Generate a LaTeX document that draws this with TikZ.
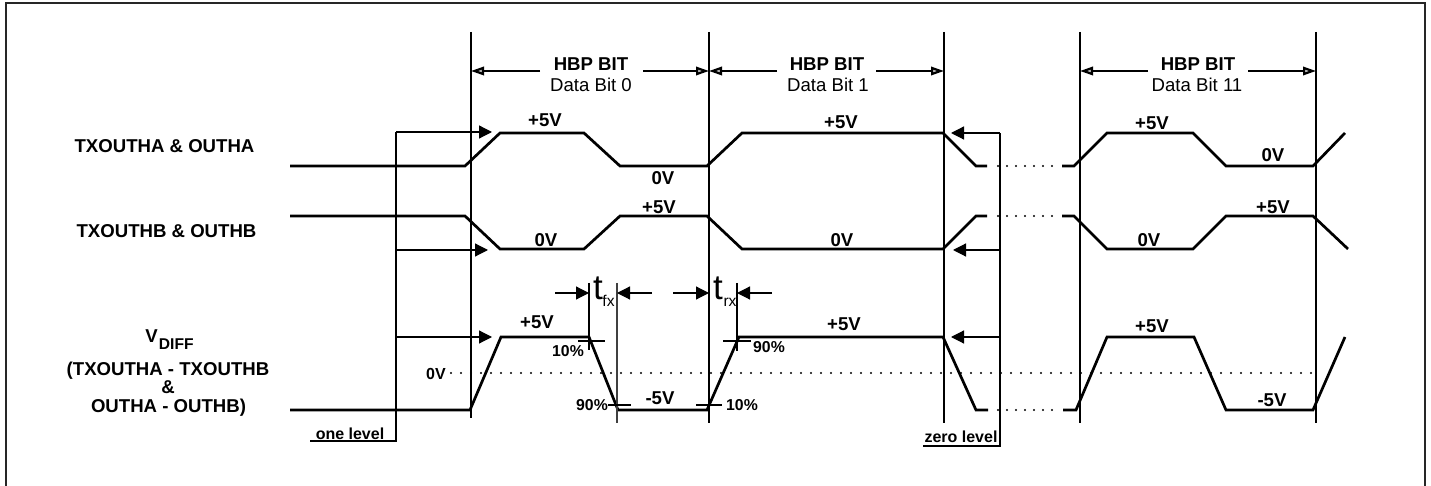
\documentclass[tikz,border=0pt]{standalone}
\usepackage{fontspec}
\setmainfont{Liberation Sans}
\usetikzlibrary{arrows.meta}
\begin{document}
\begin{tikzpicture}[x=0.5pt,y=-0.5pt,
  sig/.style={line width=1.35pt,line join=miter},
  vln/.style={line width=1.1pt},
  thn/.style={line width=0.6pt},
  frm/.style={line width=1.1pt,draw=black!85},
  conn/.style={line width=0.6pt,-{Triangle[length=6.5pt,width=6.5pt]}},
  dimln/.style={line width=1.1pt,-{Triangle[length=6.5pt,width=4.2pt,fill=gray!50]}},
  gapdots/.style={line width=1.1pt,line cap=round,dash pattern=on 0pt off 4.5pt},
  zerodots/.style={line width=1.1pt,line cap=round,dash pattern=on 0pt off 5pt},
  lbl/.style={inner sep=0pt,font=\fontsize{9.3}{10}\selectfont\bfseries,text height=6.65pt,text depth=0pt},
  reg/.style={inner sep=0pt,font=\fontsize{9.3}{10}\selectfont,text height=6.65pt,text depth=0pt},
  pct/.style={inner sep=0pt,font=\fontsize{7.9}{9}\selectfont\bfseries,text height=5.65pt,text depth=0pt},
  lvl/.style={inner sep=0pt,font=\fontsize{8}{9}\selectfont\bfseries,anchor=base},
  tbig/.style={inner sep=0pt,font=\fontsize{17.5}{18}\selectfont,anchor=base},
  tsub/.style={inner sep=0pt,font=\fontsize{7.8}{8}\selectfont,anchor=base},
]
\useasboundingbox (0,0) rectangle (1431,486);
% frame
\draw[frm] (6,486) -- (6,3) -- (1425,3) -- (1425,486);

% bit boundary lines
\foreach \x/\b [count=\i] in {471/418,709/423,944/423,1080/423,1316/423}
  \draw[vln] (\x,32) coordinate (vt\i) -- (\x,\b) coordinate (vb\i);

% HBP BIT headers
\node[lbl] (h0) at (591,63.7) {HBP BIT};
\node[reg] (d0) at (591,84.5) {Data Bit 0};
\node[lbl] (h1) at (827,63.7) {HBP BIT};
\node[reg] (d1) at (828,84.5) {Data Bit 1};
\node[lbl] (h2) at (1198,63.7) {HBP BIT};
\node[reg] (d2) at (1197,84.5) {Data Bit 11};
\draw[dimln] (540,71) -- (471,71);
\draw[dimln] (643,71) -- (709,71);
\draw[dimln] (777,71) -- (709,71);
\draw[dimln] (876,71) -- (944,71);
\draw[dimln] (1148,71) -- (1080,71);
\draw[dimln] (1248,71) -- (1316,71);

% signal names
\node[lbl] (na) at (164.5,145.5) {TXOUTHA \& OUTHA};
\node[lbl] (nb) at (166.5,231) {TXOUTHB \& OUTHB};
\node[lbl,anchor=base west] (nv) at (145,342.7) {V};
\node[inner sep=0pt,font=\fontsize{7.8}{9}\selectfont\bfseries,anchor=base west] (nvs) at (158.5,350) {DIFF};
\node[lbl] (nv1) at (168,369) {(TXOUTHA - TXOUTHB};
\node[lbl] (nv2) at (168,387) {\&};
\node[lbl] (nv3) at (168.5,405.5) {OUTHA - OUTHB)};

% waveform A
\draw[sig] (290,166) -- (465,166) -- (500,133) -- (584,133) -- (620,166) -- (707,166)
  -- (742,133) -- (943,133) -- (976,166) -- (987,166);
\draw[gapdots] (998,166) -- (1055,166);
\draw[sig] (1062,166) -- (1074,166) -- (1107,133) -- (1193,133) -- (1226,166) -- (1313,166) -- (1345,133);
% waveform B
\draw[sig] (290,216) -- (465,216) -- (500,249) -- (584,249) -- (620,216) -- (707,216)
  -- (742,249) -- (943,249) -- (976,216) -- (987,216);
\draw[gapdots] (998,216) -- (1055,216);
\draw[sig] (1062,216) -- (1074,216) -- (1107,249) -- (1193,249) -- (1226,216) -- (1313,216) -- (1348,249);
% waveform VDIFF
\draw[sig] (290,410) -- (470,410) -- (501,337) -- (589,337) -- (618,410) -- (707,410)
  -- (739,337) -- (943,337) -- (976,410) -- (988,410);
\draw[gapdots] (998,410) -- (1055,410);
\draw[sig] (1063,410) -- (1076,410) -- (1107,337) -- (1194,337) -- (1226,410) -- (1313,410) -- (1345,337);
% zero line
\node[inner sep=0pt,font=\fontsize{8}{9}\selectfont\bfseries,text height=5.75pt,text depth=0pt] (z0) at (436,374) {0V};
\draw[zerodots] (451,373) -- (1315,373);

% level labels A
\node[lbl] at (545,120) {+5V};
\node[lbl] at (663,178) {0V};
\node[lbl] at (841,122) {+5V};
\node[lbl] at (1152,123) {+5V};
\node[lbl] at (1273,155) {0V};
% level labels B
\node[lbl] at (659,207) {+5V};
\node[lbl] at (546,240) {0V};
\node[lbl] at (842,240) {0V};
\node[lbl] at (1273,207) {+5V};
\node[lbl] at (1149,240) {0V};
% level labels VDIFF
\node[lbl] at (537,322) {+5V};
\node[lbl] at (660,398) {-5V};
\node[lbl] at (844,324) {+5V};
\node[lbl] at (1152,326) {+5V};
\node[lbl] at (1272,400) {-5V};

% rise / fall time markers
\draw[thn] (589,283) -- (589,350);
\draw[thn,draw=black!75] (617,283) -- (617,423);
\draw[thn] (737,283) -- (737,351);
\coordinate (tf1) at (589,293); \coordinate (tf2) at (617,293);
\coordinate (tr1) at (709,293); \coordinate (tr2) at (737,293);
\draw[conn] (555,293) -- (tf1);
\draw[conn] (652,293) -- (tf2);
\draw[conn] (673,293) -- (tr1);
\draw[conn] (772,293) -- (tr2);
\node[tbig] (tfx) at (598,299.5) {t};
\node[tsub] (tfxs) at (608.5,307) {fx};
\node[tbig] (trx) at (718,299.5) {t};
\node[tsub] (trxs) at (730,307) {rx};
\draw[thn] (578,341) -- (605,341);
\draw[thn] (608,405) -- (631,405);
\draw[thn] (723,341) -- (751,341);
\draw[thn] (696,405) -- (722,405);
\node[pct] at (568,350.5) {10\%};
\node[pct] at (592,405) {90\%};
\node[pct] at (769,347) {90\%};
\node[pct] at (742,405) {10\%};

% one level
\node[lvl] (one) at (350,439) {one level};
\coordinate (ob) at (396,441);
\draw[thn] (310,441) -- (ob) -- (396,132) coordinate (o1);
\coordinate (o2) at (396,250); \coordinate (o3) at (396,337);
\coordinate (oa1) at (492,132); \coordinate (oa2) at (488,250); \coordinate (oa3) at (492,337);
\draw[conn] (o1) -- (oa1);
\draw[conn] (o2) -- (oa2);
\draw[conn] (o3) -- (oa3);

% zero level
\node[lvl] (zero) at (961,443) {zero level};
\coordinate (zb) at (1000,446);
\draw[thn] (923,446) -- (zb) -- (1000,133) coordinate (z1);
\coordinate (z2) at (1000,250); \coordinate (z3) at (1000,337);
\coordinate (za1) at (951,133); \coordinate (za2) at (953,250); \coordinate (za3) at (951,337);
\draw[conn] (z1) -- (za1);
\draw[conn] (z2) -- (za2);
\draw[conn] (z3) -- (za3);
\end{tikzpicture}
\end{document}
